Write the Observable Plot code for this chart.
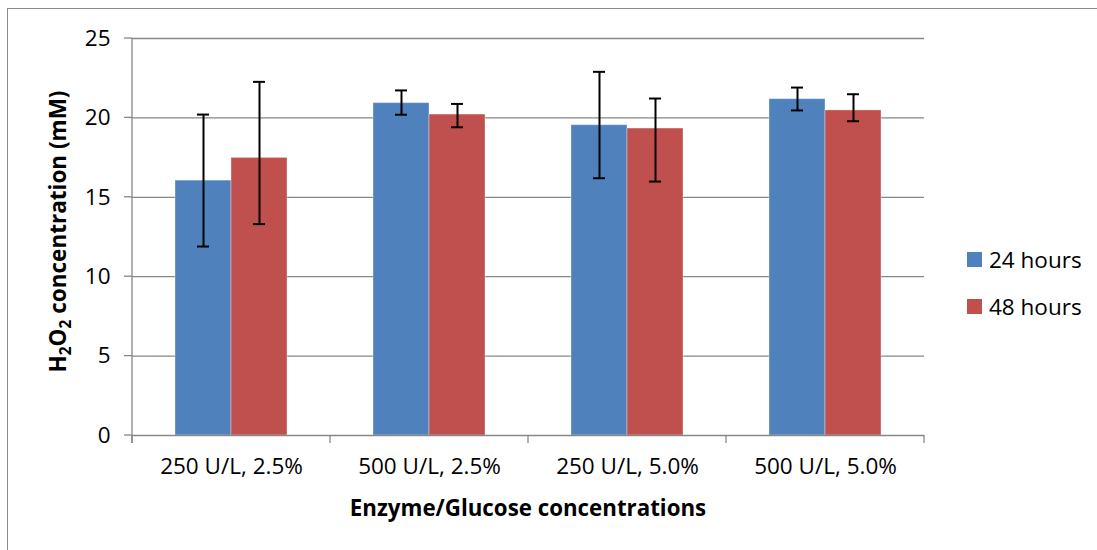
<!DOCTYPE html>
<html>
<head>
<meta charset="utf-8">
<script src="https://cdn.jsdelivr.net/npm/d3@7"></script>
<script src="https://cdn.jsdelivr.net/npm/@observablehq/plot@0.6"></script>
<style>
  html, body { margin: 0; padding: 0; background: #fff; overflow: hidden; width: 1097px; height: 550px; }
  #wrap { position: relative; width: 1097px; height: 550px; }
  #border { position: absolute; left: 7px; top: 8px; width: 2000px; height: 2000px;
            border-top: 1px solid #8c8c8c; border-left: 1px solid #8c8c8c; }
  #chart { position: absolute; left: 0; top: 0; }
  #legend { position: absolute; left: 967px; top: 244px; font-family: "Open Sans", sans-serif; font-size: 22.5px; color: #000; }
  .row { display: flex; align-items: center; height: 30px; margin-bottom: 17.5px; }
  .sw { width: 15px; height: 15px; margin-right: 7px; }
</style>
</head>
<body>
<div id="wrap">
  <div id="border"></div>
  <div id="chart"></div>
  <div id="legend"></div>
</div>
<script>
const categories = ["250 U/L, 2.5%", "500 U/L, 2.5%", "250 U/L, 5.0%", "500 U/L, 5.0%"];
const series = ["24 hours", "48 hours"];
const means24 = [16.05, 20.93, 19.54, 21.18];
const means48 = [17.48, 20.21, 19.33, 20.47];
const low24 = [11.90, 20.20, 16.20, 20.47];
const high24 = [20.21, 21.73, 22.90, 21.91];
const low48 = [13.31, 19.41, 15.99, 19.79];
const high48 = [22.27, 20.88, 21.22, 21.49];
const yTicks = [0, 5, 10, 15, 20, 25];
const colors = ["#4F81BD", "#C0504D"];
const xTitle = "Enzyme/Glucose concentrations";

const data = categories.flatMap((c, i) => [
  {category: c, series: series[0], value: means24[i], low: low24[i], high: high24[i]},
  {category: c, series: series[1], value: means48[i], low: low48[i], high: high48[i]}
]);

const grid = "#878787";
const chart = Plot.plot({
  width: 1097, height: 550,
  marginLeft: 130, marginRight: 172, marginTop: 38, marginBottom: 115,
  style: {fontFamily: "Open Sans, sans-serif", fontSize: "22.5px", color: "#000", background: "transparent", overflow: "visible"},
  facet: {data, x: "category", label: null},
  fx: {domain: categories, paddingInner: 0, paddingOuter: 0, axis: "bottom", tickSize: 0, tickPadding: 23, label: null},
  x: {domain: series, paddingInner: 0, paddingOuter: 0.76, axis: null},
  y: {domain: [0, 25], ticks: yTicks, tickSize: 0, tickPadding: 22, label: null},
  color: {domain: series, range: colors},
  marks: [
    Plot.ruleY(yTicks.slice(1), {stroke: grid, strokeWidth: 1.3}),
    Plot.barY(data, {x: "series", y: "value", fill: "series", stroke: "#fff", strokeOpacity: 0.35, strokeWidth: 1}),
    Plot.ruleX(data, {x: "series", y1: "low", y2: "high", stroke: "#000", strokeWidth: 2}),
    Plot.tickY(data, {x: "series", y: "low", stroke: "#000", strokeWidth: 2, insetLeft: 22, insetRight: 22}),
    Plot.tickY(data, {x: "series", y: "high", stroke: "#000", strokeWidth: 2, insetLeft: 22, insetRight: 22}),
    Plot.ruleY([0], {stroke: grid, strokeWidth: 1.3})
  ]
});
document.getElementById("chart").appendChild(chart);

// axis lines, ticks and titles from the library's scales
const svg = d3.select(chart);
const ys = chart.scale("y");
let fxs = null;
try { fxs = chart.scale("fx"); } catch (e) { fxs = null; }
let fxStart, fxBand;
if (fxs && fxs.apply) {
  fxStart = c => fxs.apply(c); fxBand = fxs.bandwidth;
} else {
  const b = d3.scaleBand(categories, [130, 925]);
  fxStart = c => b(c); fxBand = b.bandwidth();
}
const y0 = ys.apply(0), yTop = ys.apply(25);
const left = fxStart(categories[0]);
const right = fxStart(categories[categories.length - 1]) + fxBand;
const g = svg.append("g").attr("stroke", grid).attr("stroke-width", 1.3);
g.append("line").attr("x1", left).attr("x2", left).attr("y1", yTop).attr("y2", y0 + 8);
yTicks.forEach(t => g.append("line").attr("x1", left - 8).attr("x2", left).attr("y1", ys.apply(t)).attr("y2", ys.apply(t)));
categories.forEach(c => g.append("line").attr("x1", fxStart(c)).attr("x2", fxStart(c)).attr("y1", y0).attr("y2", y0 + 8));
g.append("line").attr("x1", right).attr("x2", right).attr("y1", y0).attr("y2", y0 + 8);

svg.append("text")
  .attr("x", (left + right) / 2).attr("y", y0 + 81)
  .attr("text-anchor", "middle")
  .attr("font-family", "Open Sans, sans-serif").attr("font-weight", "bold").attr("font-size", "22.3px")
  .attr("fill", "#000").text(xTitle);

const yt = svg.append("text")
  .attr("transform", `translate(66,${(y0 + yTop) / 2 - 5}) rotate(-90)`)
  .attr("text-anchor", "middle")
  .attr("font-family", "Open Sans, sans-serif").attr("font-weight", "bold").attr("font-size", "22.5px")
  .attr("fill", "#000");
yt.append("tspan").text("H");
yt.append("tspan").attr("font-size", "15.5px").attr("dy", "5").text("2");
yt.append("tspan").attr("dy", "-5").text("O");
yt.append("tspan").attr("font-size", "15.5px").attr("dy", "5").text("2");
yt.append("tspan").attr("dy", "-5").text(" concentration (mM)");

// legend
const lg = d3.select("#legend");
series.forEach((s, i) => {
  const r = lg.append("div").attr("class", "row");
  r.append("div").attr("class", "sw").style("background", colors[i]);
  r.append("span").text(s);
});
</script>
</body>
</html>
